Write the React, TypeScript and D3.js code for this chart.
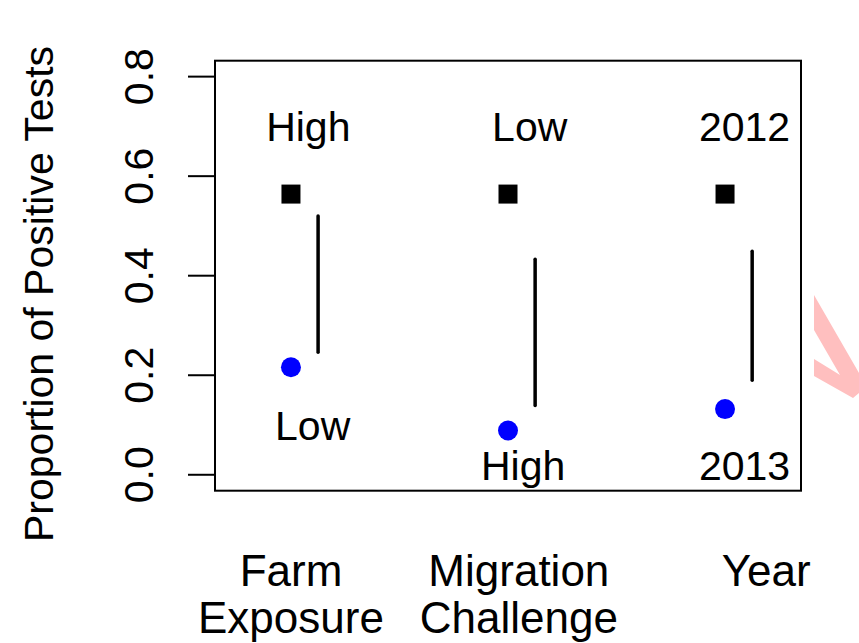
import React from "react";
import * as d3 from "d3";

const groups = ["Farm|Exposure", "Migration|Challenge", "Year"];
const groupX = [1, 2, 3];
const axisLabelX = [1.0, 2.05, 3.19];
const squareValues = [0.564, 0.564, 0.564];
const circleValues = [0.216, 0.089, 0.132];
const lineLow = [0.246, 0.139, 0.19];
const lineHigh = [0.52, 0.433, 0.449];
const topLabels = ["High", "Low", "2012"];
const topLabelX = [1.08, 2.1, 3.09];
const topLabelY = [0.7, 0.7, 0.7];
const bottomLabels = ["Low", "High", "2013"];
const bottomLabelX = [1.1, 2.07, 3.09];
const bottomLabelY = [0.1, 0.02, 0.02];
const yTicks = [0, 0.2, 0.4, 0.6, 0.8];
const yTitle = "Proportion of Positive Tests";

const W = 859;
const H = 643;
const FONT = "'Liberation Sans', Arial, sans-serif";
const FS = 41;
const FS_AX = 44;

export default function App() {
  const x = d3.scaleLinear().domain([0.65, 3.35]).range([215, 801]);
  const y = d3.scaleLinear().domain([-0.032, 0.832]).range([490.7, 60.7]);
  const sq = 19;
  const lineOffset = 0.125;
  const base = (v: number) => y(v) + 0.36 * FS;

  return (
    <svg
      width={W}
      height={H}
      style={{ position: "absolute", left: 0, top: 0, background: "#fff" }}
      fontFamily={FONT}
    >
      <rect x={0} y={0} width={W} height={H} fill="#fff" />
      <polygon
        points="814,295 859,373 859,393 853,398 814,376 814,359 840,375 814,330"
        fill="#ffbfbf"
      />
      <rect
        x={x.range()[0]}
        y={y.range()[1]}
        width={x.range()[1] - x.range()[0]}
        height={y.range()[0] - y.range()[1]}
        fill="none"
        stroke="#000"
        strokeWidth={2}
      />
      {yTicks.map((t) => (
        <g key={t}>
          <line x1={188} x2={215} y1={y(t)} y2={y(t)} stroke="#000" strokeWidth={2} />
          <text
            transform={`translate(${153},${y(t)}) rotate(-90)`}
            textAnchor="middle"
            fontSize={FS}
          >
            {t.toFixed(1)}
          </text>
        </g>
      ))}
      <text
        transform={`translate(${53},${294}) rotate(-90)`}
        textAnchor="middle"
        fontSize={FS}
      >
        {yTitle}
      </text>
      {groupX.map((g, i) => (
        <line
          key={"l" + i}
          x1={x(g + lineOffset)}
          x2={x(g + lineOffset)}
          y1={y(lineLow[i])}
          y2={y(lineHigh[i])}
          stroke="#000"
          strokeWidth={3.5}
          strokeLinecap="round"
        />
      ))}
      {groupX.map((g, i) => (
        <rect
          key={"s" + i}
          x={x(g) - sq / 2}
          y={y(squareValues[i]) - sq / 2}
          width={sq}
          height={sq}
          fill="#000"
        />
      ))}
      {groupX.map((g, i) => (
        <circle key={"c" + i} cx={x(g)} cy={y(circleValues[i])} r={10} fill="#0000ff" />
      ))}
      {topLabels.map((t, i) => (
        <text key={"t" + i} x={x(topLabelX[i])} y={base(topLabelY[i])} textAnchor="middle" fontSize={FS}>
          {t}
        </text>
      ))}
      {bottomLabels.map((t, i) => (
        <text key={"b" + i} x={x(bottomLabelX[i])} y={base(bottomLabelY[i])} textAnchor="middle" fontSize={FS}>
          {t}
        </text>
      ))}
      {groups.map((gname, i) => (
        <text key={"g" + i} x={x(axisLabelX[i])} y={586} textAnchor="middle" fontSize={FS_AX}>
          {gname.split("|").map((ln, j) => (
            <tspan key={j} x={x(axisLabelX[i])} dy={j === 0 ? 0 : 47}>
              {ln}
            </tspan>
          ))}
        </text>
      ))}
    </svg>
  );
}
